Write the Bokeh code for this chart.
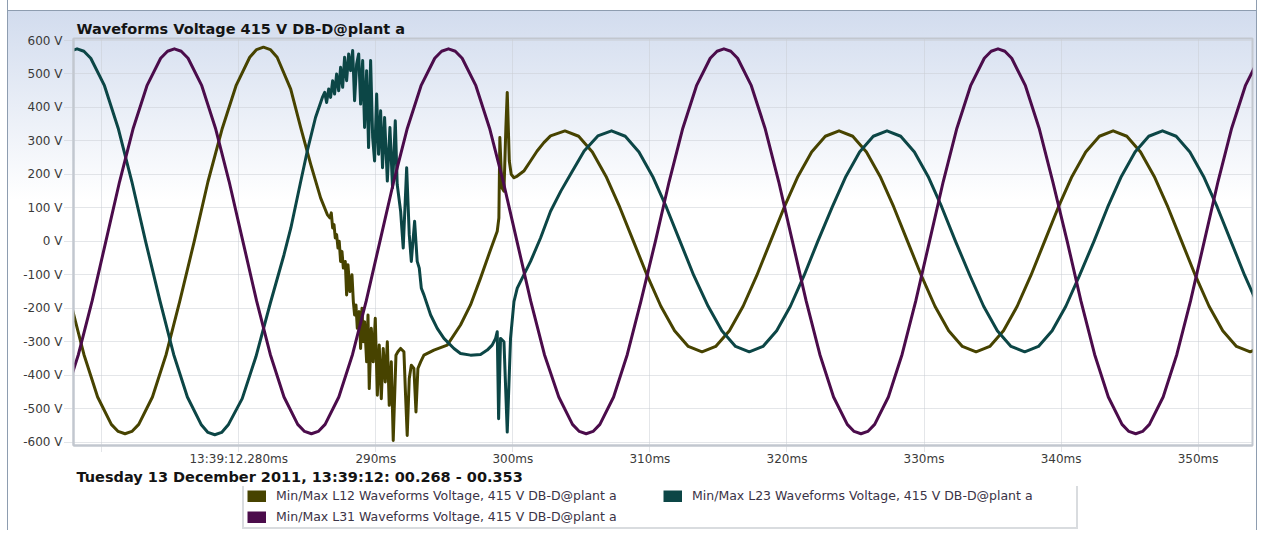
from bokeh.plotting import figure
from bokeh.layouts import column
from bokeh.models import (Range1d, FixedTicker, PrintfTickFormatter,
                          Legend, LegendItem)
from bokeh.embed import file_html
from bokeh.resources import INLINE

# ---------------- data ----------------
title_text = "Waveforms Voltage 415 V DB-D@plant a"
date_text = "Tuesday 13 December 2011, 13:39:12: 00.268 - 00.353"
series_names = [
    "Min/Max L12 Waveforms Voltage, 415 V DB-D@plant a",
    "Min/Max L23 Waveforms Voltage, 415 V DB-D@plant a",
    "Min/Max L31 Waveforms Voltage, 415 V DB-D@plant a",
]
series_colors = ["#474300", "#0c4646", "#4b0c4b"]

x_tick_values = [270, 280, 290, 300, 310, 320, 330, 340, 350]
x_tick_labels = ["", "13:39:12.280ms", "290ms", "300ms", "310ms", "320ms",
                 "330ms", "340ms", "350ms"]
y_tick_values = [-600, -500, -400, -300, -200, -100, 0, 100, 200, 300, 400, 500, 600]

# time in ms, voltage in V
l12_t = [266.7, 267.7, 268.7, 269.7, 270.7, 271.2, 271.7, 272.2, 272.7, 273.7,
         274.7, 275.7, 276.75, 277.75, 278.8, 279.8, 280.8, 281.3, 281.8, 282.3,
         282.8, 283.79, 284.52, 285.25, 285.97, 286.46, 286.65, 286.75, 286.85, 286.95,
         287.04, 287.14, 287.24, 287.33, 287.43, 287.53, 287.63, 287.77, 287.87, 287.97,
         288.11, 288.26, 288.36, 288.45, 288.55, 288.65, 288.79, 288.89, 288.99, 289.09,
         289.18, 289.33, 289.43, 289.52, 289.67, 289.81, 289.96, 290.11, 290.25, 290.40,
         290.54, 290.69, 290.84, 290.98, 291.13, 291.27, 291.47, 291.61, 291.81, 292.05,
         292.17, 292.29, 292.44, 292.59, 292.78, 292.93, 293.07, 293.27, 293.51, 294.24,
         295.21, 296.18, 296.91, 297.64, 298.37, 298.86, 298.98, 299.05, 299.20, 299.35,
         299.49, 299.59, 299.74, 299.88, 300.08, 300.32, 300.80, 301.29, 301.77, 302.26,
         302.75, 303.8, 304.8, 305.8, 306.8, 307.8, 308.8, 309.8, 310.8, 311.8,
         312.8, 313.8, 314.8, 315.8, 316.8, 317.8, 318.8, 319.8, 320.8, 321.8,
         322.8, 323.8, 324.8, 325.8, 326.8, 327.8, 328.8, 329.8, 330.8, 331.8,
         332.8, 333.8, 334.8, 335.8, 336.8, 337.8, 338.8, 339.8, 340.8, 341.8,
         342.8, 343.8, 344.8, 345.8, 346.8, 347.8, 348.8, 349.8, 350.8, 351.8,
         352.8, 353.8, 354.8]
l12_v = [0, -178, -338, -465, -547, -568, -575, -568, -547, -465,
         -338, -178, 0, 178, 338, 465, 550, 573, 580, 573,
         550, 455, 340, 230, 130, 80, 70, 85, 40, 50,
         10, 20, -20, 0, -60, -30, -80, -60, -160, -70,
         -150, -100, -180, -220, -190, -260, -210, -320, -200, -300,
         -240, -360, -220, -440, -260, -360, -230, -460, -310, -470,
         -320, -420, -300, -490, -360, -595, -340, -330, -320, -330,
         -460, -580, -410, -370, -380, -510, -380, -360, -340, -325,
         -310, -250, -190, -110, -25, 30, 70, 310, 160, 150,
         340, 445, 240, 200, 190, 195, 210, 240, 270, 295,
         315, 330, 314, 267, 194, 102, 0, -102, -194, -267,
         -314, -330, -314, -267, -194, -102, 0, 102, 194, 267,
         314, 330, 314, 267, 194, 102, 0, -102, -194, -267,
         -314, -330, -314, -267, -194, -102, 0, 102, 194, 267,
         314, 330, 314, 267, 194, 102, 0, -102, -194, -267,
         -314, -330, -314]

l23_t = [267.2, 267.7, 268.2, 268.7, 269.2, 270.2, 271.2, 272.2, 273.2, 274.25,
         275.25, 276.25, 277.25, 277.75, 278.25, 278.75, 279.25, 280.25, 281.25, 282.3,
         283.3, 283.8, 284.5, 285.0, 285.6, 286.1, 286.27, 286.41, 286.56, 286.70,
         286.85, 286.99, 287.14, 287.29, 287.43, 287.58, 287.72, 287.87, 288.02, 288.16,
         288.31, 288.45, 288.60, 288.75, 288.89, 289.04, 289.18, 289.33, 289.47, 289.62,
         289.77, 289.91, 290.06, 290.20, 290.35, 290.49, 290.64, 290.84, 291.03, 291.22,
         291.42, 291.56, 291.81, 292.00, 292.25, 292.44, 292.59, 292.83, 293.02, 293.17,
         293.32, 293.51, 294.00, 294.48, 294.97, 295.70, 296.18, 296.91, 297.64, 298.13,
         298.49, 298.74, 298.86, 298.96, 299.10, 299.35, 299.59, 299.83, 300.08, 300.32,
         300.80, 301.29, 302.02, 302.75, 303.5, 304.2, 305.2, 306.2, 307.2, 308.2,
         309.2, 310.2, 311.2, 312.2, 313.2, 314.25, 315.25, 316.25, 317.25, 318.25,
         319.25, 320.25, 321.25, 322.25, 323.3, 324.3, 325.3, 326.3, 327.3, 328.3,
         329.3, 330.3, 331.3, 332.3, 333.35, 334.35, 335.35, 336.35, 337.35, 338.35,
         339.35, 340.35, 341.35, 342.4, 343.4, 344.4, 345.4, 346.4, 347.4, 348.4,
         349.4, 350.4, 351.4, 352.4, 353.4, 354.4]
l23_v = [547, 568, 575, 568, 547, 465, 338, 178, 0, -178,
         -338, -465, -547, -571, -578, -571, -547, -470, -345, -185,
         -40, 40, 175, 270, 370, 430, 445, 415, 455, 430,
         480, 440, 500, 450, 520, 460, 550, 480, 560, 510,
         570, 420, 530, 560, 410, 540, 340, 510, 280, 540,
         310, 240, 440, 260, 390, 220, 370, 180, 340, 160,
         360, 170, 90, -20, 220, 20, -60, 60, -60, -80,
         -140, -160, -220, -260, -290, -320, -335, -340, -338, -325,
         -310, -290, -270, -530, -290, -300, -570, -290, -180, -140,
         -100, -60, 10, 90, 150, 200, 270, 315, 330, 314,
         267, 194, 102, 0, -102, -194, -267, -314, -330, -314,
         -267, -194, -102, 0, 102, 194, 267, 314, 330, 314,
         267, 194, 102, 0, -102, -194, -267, -314, -330, -314,
         -267, -194, -102, 0, 102, 194, 267, 314, 330, 314,
         267, 194, 102, 0, -102, -194]

l31_t = [267.3, 268.3, 269.3, 270.3, 271.3, 272.3, 273.3, 274.3, 274.8, 275.3,
         275.8, 276.3, 277.3, 278.3, 279.3, 280.3, 281.3, 282.3, 283.3, 284.3,
         284.8, 285.3, 285.8, 286.3, 287.3, 288.3, 289.3, 290.3, 291.3, 292.3,
         293.3, 294.3, 294.8, 295.3, 295.8, 296.3, 297.3, 298.3, 299.3, 300.3,
         301.3, 302.3, 303.35, 304.35, 304.85, 305.35, 305.85, 306.35, 307.35, 308.35,
         309.35, 310.4, 311.4, 312.4, 313.4, 314.4, 314.9, 315.4, 315.9, 316.4,
         317.4, 318.4, 319.4, 320.4, 321.4, 322.4, 323.4, 324.4, 324.9, 325.4,
         325.9, 326.4, 327.4, 328.4, 329.4, 330.4, 331.4, 332.4, 333.4, 334.4,
         334.9, 335.4, 335.9, 336.4, 337.4, 338.4, 339.4, 340.45, 341.45, 342.45,
         343.45, 344.45, 344.95, 345.45, 345.95, 346.45, 347.45, 348.45, 349.45, 350.45,
         351.45, 352.45, 353.45, 354.45]
l31_v = [-465, -338, -178, 0, 178, 338, 465, 547, 568, 575,
         568, 547, 465, 338, 178, 0, -178, -338, -465, -547,
         -568, -575, -568, -547, -465, -338, -178, 0, 178, 338,
         465, 547, 568, 575, 568, 547, 465, 338, 178, 0,
         -178, -338, -465, -547, -568, -575, -568, -547, -465, -338,
         -178, 0, 178, 338, 465, 547, 568, 575, 568, 547,
         465, 338, 178, 0, -178, -338, -465, -547, -568, -575,
         -568, -547, -465, -338, -178, 0, 178, 338, 465, 547,
         568, 575, 568, 547, 465, 338, 178, 0, -178, -338,
         -465, -547, -568, -575, -568, -547, -465, -338, -178, 0,
         178, 338, 465, 547]

# ---------------- styling ----------------
TEXT = "#3a3a3a"
GRID = "#c8ccd2"
FRAME = "#c2c7cf"
EDGE = "#8e9db0"

sides = ("linear-gradient(90deg, #ffffff 0px, #ffffff 7px, " + EDGE + " 7px, " + EDGE +
         " 8px, rgba(255,255,255,0) 8px, rgba(255,255,255,0) calc(100% - 1px), " + EDGE +
         " calc(100% - 1px), " + EDGE + " 100%)")
bg_main = (sides + ", linear-gradient(180deg, #ffffff 0px, #ffffff 10px, " + EDGE +
           " 10px, " + EDGE + " 11px, #d2dcee 11px, #ffffff 200px)")
bg_leg = sides + ", linear-gradient(180deg, #ffffff 0px, #ffffff 100%)"

# ---------------- main chart ----------------
p = figure(width=1257, height=468, output_backend="svg", toolbar_location=None,
           x_range=Range1d(267.94, 353.97), y_range=Range1d(-610, 606),
           min_border_left=73, min_border_right=5, min_border_top=38,
           min_border_bottom=21,
           border_fill_color=None, background_fill_color=None,
           outline_line_color=FRAME, outline_line_width=2,
           styles={"background": bg_main})

for t, v, c in zip([l12_t, l23_t, l31_t], [l12_v, l23_v, l31_v], series_colors):
    p.line(t, v, line_width=3, line_color=c, line_join="round", line_cap="round")

p.title.text = title_text
p.title.align = "left"
p.title.offset = 3
p.title.standoff = 4
p.title.text_font = "DejaVu Sans"
p.title.text_font_style = "bold"
p.title.text_font_size = "14.5px"
p.title.text_color = "#141414"

xa = p.xaxis[0]
xa.ticker = FixedTicker(ticks=x_tick_values)
xa.major_label_overrides = dict(zip(x_tick_values, x_tick_labels))
ya = p.yaxis[0]
ya.ticker = FixedTicker(ticks=y_tick_values)
ya.formatter = PrintfTickFormatter(format="%d V")

for ax in (xa, ya):
    ax.axis_line_color = FRAME
    ax.axis_line_width = 2
    ax.major_tick_line_color = "#c6cad0"
    ax.major_tick_line_dash = "1 1"
    ax.minor_tick_line_color = None
    ax.major_label_text_font = "DejaVu Sans"
    ax.major_label_text_font_size = "12px"
    ax.major_label_text_color = TEXT
xa.major_tick_out = 6
xa.major_tick_in = 0
xa.major_label_standoff = 0
ya.major_tick_out = 9
ya.major_tick_in = 0
ya.major_label_standoff = 2

for g in (p.xgrid[0], p.ygrid[0]):
    g.grid_line_color = GRID
    g.grid_line_dash = "1 1"
    g.grid_line_width = 1

# ---------------- date line + legend strip ----------------
q = figure(width=1257, height=62, output_backend="svg", toolbar_location=None,
           x_range=Range1d(0, 1), y_range=Range1d(0, 1),
           x_axis_type=None, y_axis_type=None,
           min_border_left=0, min_border_right=0, min_border_top=0,
           min_border_bottom=0,
           border_fill_color=None, background_fill_color=None,
           outline_line_color=None, styles={"background": bg_leg})
q.grid.visible = False
q.title.text = date_text
q.title.align = "left"
q.title.offset = 3
q.title.standoff = 0
q.title.vertical_align = "top"
q.title.text_font = "DejaVu Sans"
q.title.text_font_style = "bold"
q.title.text_font_size = "14.5px"
q.title.text_color = "#141414"

# the series themselves (outside this strip's ranges) drawn thick give square swatches
proxies = []
for t, v, c in zip([l12_t, l23_t, l31_t], [l12_v, l23_v, l31_v], series_colors):
    proxies.append(q.line(t, v, line_width=12, line_color=c, line_cap="butt"))
items = [LegendItem(label=series_names[0], renderers=[proxies[0]]),
         LegendItem(label=series_names[2], renderers=[proxies[2]]),
         LegendItem(label=series_names[1], renderers=[proxies[1]])]
legend = Legend(items=items, location=(169, 1), orientation="vertical", ncols=2,
                glyph_width=19, glyph_height=12, label_standoff=10,
                label_width=381, label_height=15, spacing=6, padding=3, margin=0,
                label_text_font="DejaVu Sans", label_text_font_size="12.5px",
                label_text_color="#3a3346",
                border_line_color="#b4b9c0", border_line_width=2,
                background_fill_color="#ffffff", background_fill_alpha=1)
q.add_layout(legend)

layout = column(p, q, spacing=0)
open("out.html", "w").write(file_html(layout, INLINE))
